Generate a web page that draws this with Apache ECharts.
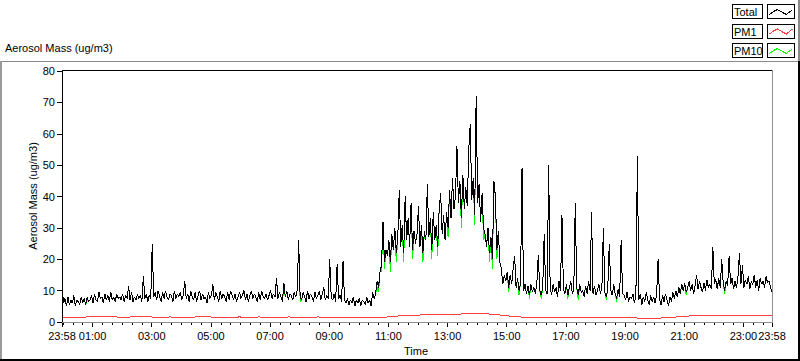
<!DOCTYPE html>
<html>
<head>
<meta charset="utf-8">
<script src="https://cdn.jsdelivr.net/npm/echarts@6/dist/echarts.min.js"></script>
<style>
html,body{margin:0;padding:0;background:#fff;}
#chart{width:800px;height:361px;}
#chart svg path{shape-rendering:crispEdges;}
</style>
</head>
<body>
<div id="chart"></div>
<script>
// ---- data: Total and PM10, 3-minute samples starting at 23:58 ----
const stepTotal = 3;
const totalVals = [
12, 6, 7.5, 5, 8, 5.5, 7, 6, 8.5, 5, 7, 6.5, 5.5, 8, 6, 7.5, 5.5, 8, 6.5, 7,
8.5, 6, 9, 7, 6.5, 9.5, 7.5, 8, 6, 9, 7, 8.5, 6.5, 9.5, 7, 8, 6.5, 9, 7.5, 8,
7, 9, 6.5, 8.5, 7.5, 11.5, 7, 9.5, 6.5, 8, 7, 9, 7.5, 8.5, 6.5, 14.5, 7.5, 9, 6.5, 8.5,
7.5, 25, 8, 9.5, 7, 10, 8, 6.5, 9.5, 7.5, 10, 8, 7, 9, 8.5, 6.5, 10, 7.5, 9, 8,
9.5, 7, 8.5, 13, 7.5, 9, 6.5, 10, 8, 7, 9.5, 6.5, 8.5, 10, 7, 9, 7.5, 8, 6, 9.5,
7.5, 8.5, 12, 7, 9.5, 8, 6.5, 10, 7.5, 9, 8, 6.5, 9.5, 7, 10, 8.5, 7, 9, 6.5, 8,
9.5, 7.5, 8.5, 10, 7, 9, 6.5, 8.5, 10, 7.5, 9, 8, 6.5, 9.5, 7, 10, 8, 7.5, 9, 7,
8.5, 10, 7.5, 9, 8, 14, 7.5, 9.5, 8, 6.5, 12.5, 8, 10, 7, 9, 8.5, 7, 9.5, 8, 10,
26, 8, 7, 9.5, 8, 6.5, 10, 7.5, 9, 8, 6.5, 9.5, 7.5, 8.5, 10, 7, 9, 11, 7, 8.5,
7.5, 20, 8, 7, 9, 6.5, 18.5, 7.5, 8.5, 6.5, 19.5, 7, 6, 7.5, 5.5, 7, 6, 8, 5, 7,
6, 7.5, 5, 7, 6.5, 5.5, 8, 6, 7, 5, 9.5, 7.5, 9, 13, 11, 16, 18, 32, 19, 23,
21, 26, 19, 28, 23, 30, 22, 27, 42, 24, 31, 22, 40, 26, 33, 24, 38, 23, 29, 25,
28, 37, 24, 31, 22, 29, 26, 44, 27, 33, 23, 35, 26, 31, 24, 36, 41, 28, 34, 26,
35, 30, 42, 33, 46, 36, 40, 56, 38, 45, 33, 47, 36, 43, 37, 55, 63, 39, 46, 34,
72, 38, 44, 32, 41, 30, 28, 24, 30, 22, 27, 20, 45, 40, 23, 29, 19, 17, 12, 15,
13, 16, 11, 15, 12, 17, 21, 11, 14, 10, 12.5, 49, 10, 12, 9, 11.5, 8.5, 12, 9.5, 11,
9, 12, 21.5, 10, 8.5, 11, 28, 10, 9, 50, 11.5, 8.5, 12, 9.5, 11, 8, 13, 10, 34, 10.5,
9, 12, 8.5, 11, 13, 9, 10.5, 38, 11, 8.5, 12, 9.5, 10, 8, 11.5, 9, 13, 10, 35, 9,
11.5, 8.5, 10, 12, 9, 11, 30, 9.5, 8, 11, 25, 10, 8.5, 12, 9, 7.5, 10.5, 8, 26, 9,
8.5, 7, 9.5, 6.5, 8, 7.5, 9, 6, 8.5, 53, 7, 9, 5.5, 8, 6.5, 9.5, 7, 5.5, 8.5, 6.5,
8, 6, 9, 20, 7, 5.5, 8.5, 6.5, 9, 7, 5, 8, 6.5, 9.5, 7.5, 10, 8, 11, 9, 12,
10, 12.5, 9.5, 11, 13, 10, 12, 9, 11.5, 15, 10.5, 13, 11, 9.5, 12.5, 10, 13.5, 11, 12, 10.5,
24, 12, 13.5, 10.5, 14, 11, 20, 12.5, 10, 13, 11.5, 21, 12, 14, 10.5, 13, 11, 14.5, 22, 12,
18, 11, 13.5, 12, 14.5, 10.5, 13, 12, 15, 11, 13.5, 10, 14, 12, 13, 11, 14.5, 12.5, 13, 11, 9.5
];
const pm10Vals = [
12, 6, 7.5, 5, 8, 5.5, 7, 6, 8.5, 5, 7, 6.5, 5.5, 8, 6, 7.5, 5.5, 7, 6.5, 7,
8.5, 6, 9, 7, 6.5, 9.5, 7.5, 8, 6, 9, 7, 8.5, 6.5, 9.5, 7, 8, 6.5, 9, 7.5, 8,
7, 9, 6.5, 8.5, 7.5, 11.5, 7, 9.5, 6.5, 8, 7, 9, 7.5, 8.5, 6.5, 14.5, 7.5, 9, 6.5, 8.5,
7.5, 25, 8, 9.5, 7, 10, 8, 6.5, 9.5, 7.5, 10, 8, 7, 9, 8.5, 6.5, 10, 7.5, 9, 8,
9.5, 7, 8.5, 13, 7.5, 9, 6.5, 10, 8, 7, 9.5, 6.5, 8.5, 10, 7, 9, 7.5, 8, 6, 9.5,
7.5, 8.5, 12, 7, 9.5, 8, 6.5, 10, 7.5, 9, 8, 6.5, 9.5, 7, 10, 8.5, 7, 9, 6.5, 8,
9.5, 7.5, 8.5, 10, 7, 9, 6.5, 8.5, 10, 7.5, 9, 8, 6.5, 9.5, 7, 10, 8, 7.5, 9, 7,
8.5, 10, 7.5, 9, 8, 14, 7.5, 9.5, 8, 6.5, 10.5, 8, 10, 7, 9, 8.5, 7, 9.5, 8, 10,
26, 6.5, 7, 9.5, 8, 6.5, 10, 7.5, 9, 8, 6.5, 9.5, 7.5, 8.5, 10, 7, 9, 11, 7, 8.5,
7.5, 20, 8, 7, 9, 6.5, 18.5, 7.5, 8.5, 6.5, 19.5, 7, 6, 7.5, 5.5, 7, 6, 8, 5, 7,
6, 7.5, 5, 7, 6.5, 5.5, 8, 6, 7, 5, 9.5, 7.5, 9, 11, 9.5, 16, 16, 32, 17, 23,
21, 26, 16, 28, 23, 30, 19, 27, 42, 24, 31, 19, 40, 26, 33, 24, 38, 20, 29, 25,
28, 37, 24, 31, 19, 29, 26, 44, 27, 33, 20, 35, 26, 31, 21, 36, 41, 28, 34, 26,
35, 27, 42, 33, 46, 36, 40, 56, 38, 45, 30, 47, 36, 43, 37, 55, 63, 39, 46, 31,
72, 38, 44, 32, 41, 26, 28, 24, 30, 19, 27, 17, 45, 40, 20, 29, 19, 17, 12, 15,
13, 16, 9.5, 15, 12, 17, 21, 11, 14, 8.5, 12.5, 49, 10, 12, 9, 11.5, 7.5, 12, 9.5, 11,
9, 12, 21.5, 10, 7.5, 11, 28, 10, 9, 50, 11.5, 8.5, 12, 9.5, 11, 8, 13, 10, 34, 10.5,
9, 12, 7.5, 11, 13, 9, 10.5, 38, 11, 7, 12, 9.5, 10, 8, 11.5, 9, 13, 10, 35, 9,
11.5, 8.5, 10, 12, 9, 11, 30, 9.5, 7, 11, 25, 10, 8.5, 12, 9, 6.5, 10.5, 8, 26, 9,
8.5, 7, 9.5, 6.5, 8, 7.5, 9, 6, 8.5, 53, 7, 9, 5.5, 8, 6.5, 9.5, 7, 5.5, 8.5, 6.5,
8, 6, 9, 20, 7, 5.5, 8.5, 6.5, 9, 7, 5, 8, 6.5, 9.5, 7.5, 10, 8, 11, 9, 12,
10, 12.5, 8.5, 11, 13, 10, 12, 9, 11.5, 15, 10.5, 13, 11, 9.5, 12.5, 10, 13.5, 11, 12, 10.5,
24, 12, 13.5, 10.5, 14, 11, 20, 12.5, 9, 13, 11.5, 21, 12, 14, 10.5, 13, 11, 14.5, 22, 12,
18, 11, 13.5, 12, 14.5, 10.5, 13, 12, 15, 11, 13.5, 10, 14, 12, 13, 11, 14.5, 12.5, 13, 11, 9.5
];
// PM1: 20-minute samples starting at 23:58
const stepPm1 = 20;
const pm1Vals = [
1.5, 1.4, 1.5, 1.7, 1.6, 1.7, 1.5, 1.6, 1.7, 1.6,
1.5, 1.6, 1.5, 1.5, 1.7, 1.6, 1.5, 1.5, 1.6, 1.5, 1.6,
1.5, 1.5, 1.6, 1.5, 1.5, 1.6, 1.4, 1.5, 1.4, 1.3,
1.3, 1.4, 1.6, 1.9, 2.1, 2.2,
2.3, 2.4, 2.3, 2.5, 2.6, 2.7, 2.6, 2.4,
2.0, 1.7, 1.5, 1.4, 1.5, 1.4,
1.4, 1.5, 1.4, 1.4, 1.5, 1.4, 1.3, 1.3, 1.2, 1.2,
1.3, 1.5, 1.8, 2.0, 2.1, 2.0,
2.1, 2.2, 2.1, 2.0, 2.1, 2.0
];
// x axis: minutes elapsed since 23:58
const tickLabelMinutes = [0, 62, 182, 302, 422, 542, 662, 782, 902, 1022, 1142, 1262, 1382, 1440];
const tickLabelTexts = ['23:58', '01:00', '03:00', '05:00', '07:00', '09:00', '11:00', '13:00', '15:00', '17:00', '19:00', '21:00', '23:00', '23:58'];
const minorTickMinutes = [0];
for (let m = 2; m <= 1440; m += 20) minorTickMinutes.push(m);
minorTickMinutes.push(1440);
const seriesNames = ['Total', 'PM1', 'PM10'];
const seriesColors = ['#000000', '#ff4040', '#00ff00'];

// ---- chart ----
const FONT = 'Liberation Sans, Arial, sans-serif';
const FS = 11;
const labelMap = {};
tickLabelMinutes.forEach((m, i) => { labelMap[m] = tickLabelTexts[i]; });

const G = {left: 62, top: 71, width: 710, height: 251};

const graphics = [];
function line(x1, y1, x2, y2, color, w) {
  graphics.push({type: 'line', silent: true, z: 100,
    shape: {x1, y1, x2, y2}, style: {stroke: color, lineWidth: w || 1}});
}
// outer panel
line(0, 61.5, 799, 61.5, '#8a8a8a');
line(1, 61, 1, 361, '#9a9a9a', 2);
line(799, 0, 799, 61, '#8a8a8a', 2);
line(799, 61, 799, 361, '#000000', 2);
line(0, 360, 800, 360, '#000000', 2);
// plot frame
line(62.5, 70, 62.5, 322.5, '#000000');
line(62, 70.5, 772.5, 70.5, '#000000');
line(62, 322.5, 773, 322.5, '#909090');
line(772.5, 70, 772.5, 323, '#909090');
// title and axis names
graphics.push({type: 'text', z: 100, x: 5, y: 48, style: {text: 'Aerosol Mass (ug/m3)', font: FS + 'px ' + FONT, fill: '#000', textAlign: 'left', textVerticalAlign: 'middle'}});
graphics.push({type: 'text', z: 100, x: 33, y: 196, rotation: Math.PI / 2, style: {text: 'Aerosol Mass (ug/m3)', font: FS + 'px ' + FONT, fill: '#000', textAlign: 'center', textVerticalAlign: 'middle'}});
graphics.push({type: 'text', z: 100, x: 416, y: 351, style: {text: 'Time', font: FS + 'px ' + FONT, fill: '#000', textAlign: 'center', textVerticalAlign: 'middle'}});
// legend (plot legend boxes)
const zig = [[2, 10], [6, 7], [10, 5], [15, 8], [19, 10], [25, 5]];
seriesNames.forEach((name, k) => {
  const y0 = 4.5 + k * 19.5;
  graphics.push({type: 'rect', z: 100, shape: {x: 732.5, y: y0, width: 30, height: 14}, style: {fill: '#fff', stroke: '#000', lineWidth: 1}});
  graphics.push({type: 'text', z: 101, x: 734, y: y0 + 7.5, style: {text: name, font: '11px ' + FONT, fill: '#000', textAlign: 'left', textVerticalAlign: 'middle'}});
  graphics.push({type: 'rect', z: 100, shape: {x: 767.5, y: y0, width: 27, height: 14}, style: {fill: '#fff', stroke: '#000', lineWidth: 1}});
  graphics.push({type: 'polyline', z: 101, shape: {points: zig.map(p => [767.5 + p[0], y0 + p[1]])}, style: {stroke: seriesColors[k], lineWidth: 1, fill: null}});
});

const chart = echarts.init(document.getElementById('chart'), null, {renderer: 'svg'});
chart.setOption({
  animation: false,
  backgroundColor: '#ffffff',
  grid: {left: G.left, top: G.top, width: G.width, height: G.height, containLabel: false},
  xAxis: [{
    type: 'value', min: 0, max: 1440, position: 'bottom',
    axisLine: {show: false},
    axisTick: {show: true, length: 5, customValues: tickLabelMinutes, lineStyle: {color: '#000'}},
    axisLabel: {show: true, customValues: tickLabelMinutes, margin: 8, color: '#000', fontFamily: FONT, fontSize: FS,
      formatter: v => labelMap[v] !== undefined ? labelMap[v] : ''},
    splitLine: {show: false}
  }, {
    type: 'value', min: 0, max: 1440, position: 'bottom',
    axisLine: {show: false},
    axisTick: {show: true, length: 3, customValues: minorTickMinutes, lineStyle: {color: '#000'}},
    axisLabel: {show: false},
    splitLine: {show: false}
  }],
  yAxis: {
    type: 'value', min: 0, max: 80, interval: 10,
    axisLine: {show: false},
    axisTick: {show: true, length: 5, lineStyle: {color: '#000'}},
    axisLabel: {margin: 7, color: '#000', fontFamily: FONT, fontSize: FS},
    splitLine: {show: false}
  },
  series: [
    {name: 'PM10', type: 'line', xAxisIndex: 0, showSymbol: false, symbol: 'none', z: 2,
      lineStyle: {color: seriesColors[2], width: 1}, data: pm10Vals.map((v, i) => [i * stepTotal, v])},
    {name: 'PM1', type: 'line', xAxisIndex: 0, showSymbol: false, symbol: 'none', z: 2,
      lineStyle: {color: seriesColors[1], width: 1}, data: pm1Vals.map((v, i) => [i * stepPm1, v])},
    {name: 'Total', type: 'line', xAxisIndex: 0, showSymbol: false, symbol: 'none', z: 3,
      lineStyle: {color: seriesColors[0], width: 1}, data: totalVals.map((v, i) => [i * stepTotal, v])}
  ],
  graphic: graphics
});
</script>
</body>
</html>
